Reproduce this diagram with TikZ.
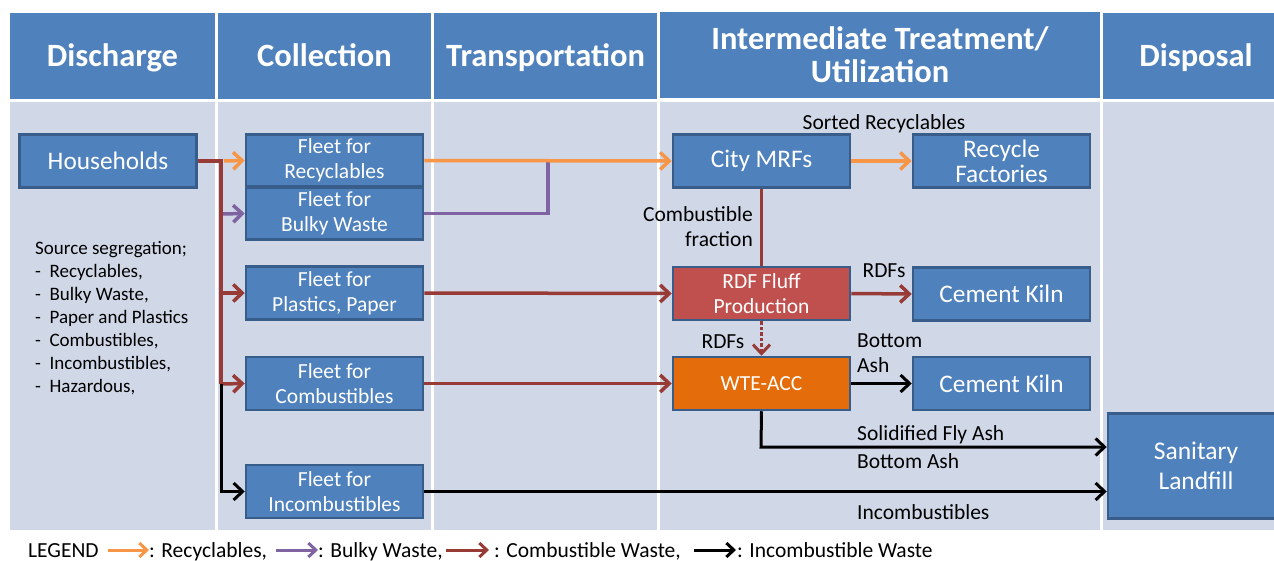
\documentclass[tikz,border=0pt]{standalone}
\usepackage{fontspec}
\setmainfont{Carlito}
\usetikzlibrary{arrows.meta}
\definecolor{hdrC}{HTML}{4F81BD}
\definecolor{bodyC}{HTML}{D0D8E8}
\definecolor{lineC}{HTML}{385D8A}
\definecolor{orangeA}{HTML}{F79646}
\definecolor{purpleA}{HTML}{8064A2}
\definecolor{redA}{HTML}{983A36}
\definecolor{rdfC}{HTML}{C0504D}
\definecolor{wteC}{HTML}{E46C0A}
\tikzset{
  hdrbase/.style={fill=hdrC, text=white, font=\fontsize{32.5}{33}\selectfont\bfseries, align=center, inner sep=0pt, minimum height=86pt},
  hdr/.style={hdrbase, text height=22pt, text depth=1.4pt},
  bodycell/.style={fill=bodyC, inner sep=0pt, minimum height=428pt},
  box/.style={draw=lineC, fill=hdrC, line width=2.5pt, minimum width=177pt, minimum height=53pt, text=white, align=center, inner sep=0pt},
  fleet/.style={box, font=\fontsize{21.5}{25}\selectfont},
  bigbox/.style={box, font=\fontsize{25.3}{25}\selectfont},
  lbl/.style={font=\fontsize{21.5}{25}\selectfont, inner sep=0pt, align=left},
  leg/.style={font=\fontsize{21.5}{24}\selectfont, inner sep=0pt, anchor=base west},
  tipA/.style={-{Straight Barb[length=9pt,width=17pt]}},
  tipL/.style={-{Straight Barb[length=7.5pt,width=14pt]}},
  oline/.style={draw=orangeA, line width=3.5pt},
  pline/.style={draw=purpleA, line width=3.5pt},
  rline/.style={draw=redA, line width=3.5pt},
  kline/.style={draw=black, line width=3pt},
}
\begin{document}
\begin{tikzpicture}[x=1pt,y=-1pt]
\useasboundingbox (0,0) rectangle (1274,561);
\fill[white] (0,0) rectangle (1274,561);
% header cells
\node[hdr, minimum width=205pt] (h1) at (112.5,56) {Discharge};
\node[hdr, minimum width=213pt] (h2) at (324.5,56) {Collection};
\node[hdr, minimum width=223pt] (h3) at (545.5,56) {Transportation};
\node[hdrbase, minimum width=440pt] (h4) at (880,55) {Intermediate Treatment/\\Utilization};
\node[hdr, minimum width=186pt] (h5) at (1196,56) {Disposal};
% body cells
\node[bodycell, minimum width=205pt] (b1) at (112.5,316) {};
\node[bodycell, minimum width=213pt] (b2) at (324.5,316) {};
\node[bodycell, minimum width=223pt] (b3) at (545.5,316) {};
\node[bodycell, minimum width=440pt] (b4) at (880,316) {};
\node[bodycell, minimum width=186pt] (b5) at (1196,316) {};
% nodes
\node[bigbox] (hh) at (108,161) {Households};
\node[fleet, minimum height=52pt] (fr) at (334.5,160.5) {Fleet for\\Recyclables};
\node[fleet, minimum height=52pt] (fb) at (334.5,213.5) {Fleet for\\Bulky Waste};
\node[fleet] (fp) at (334.5,293) {Fleet for\\Plastics, Paper};
\node[fleet] (fc) at (334.5,383.5) {Fleet for\\Combustibles};
\node[fleet] (fi) at (334.5,491.5) {Fleet for\\Incombustibles};
\node[bigbox] (mrf) at (761.5,161) {City MRFs};
\node[bigbox] (rf) at (1001.5,161) {Recycle\\Factories};
\node[fleet, fill=rdfC] (rdf) at (761.5,293.5) {RDF Fluff\\Production};
\node[bigbox] (ck1) at (1001.5,294) {Cement Kiln};
\node[fleet, fill=wteC] (wte) at (761.5,383.5) {WTE-ACC};
\node[bigbox] (ck2) at (1001.5,383.5) {Cement Kiln};
\node[bigbox, minimum width=176pt, minimum height=105pt, font=\fontsize{25.5}{30}\selectfont] (sl) at (1196,466) {Sanitary\\Landfill};
% source segregation
\node[anchor=north west, inner sep=0pt, align=left, font=\fontsize{19}{23}\selectfont] (seg) at (35,241)
 {Source segregation;\\- \ Recyclables,\\- \ Bulky Waste,\\- \ Paper and Plastics\\- \ Combustibles,\\- \ Incombustibles,\\- \ Hazardous,};
% junction coordinates
\coordinate (j1) at (221,161);
\coordinate (j2) at (221,214);
\coordinate (j3) at (221,293);
\coordinate (j4) at (221,384);
\coordinate (jb) at (548,161);
\coordinate (fa) at (761,447);
% collection arrows
\draw[oline, tipA] (224,161) -- (fr.west);
\draw[pline, tipA] (j2) -- (fb.west);
\draw[rline, tipA] (j3) -- (fp.west);
\draw[rline, tipA] (j4) -- (fc.west);
\draw[kline, tipA] (j4) |- (fi.west);
\draw[rline] (hh.east) -- (j1) -- (j4);
% transport
\draw[pline] (fb.east) -| (jb);
\draw[oline, tipA] (fr.east) -- (mrf.west);
\draw[rline, tipA] (fp.east) -- (rdf.west);
\draw[rline, tipA] (fc.east) -- (wte.west);
\draw[kline, tipA] (fi.east) -- (fi.east -| sl.west);
% treatment
\draw[oline, tipA] (mrf.east) -- (rf.west);
\draw[rline] (mrf.south) -- (rdf.north);
\draw[rline, tipA] (rdf.east) -- (ck1.west);
\draw[rline, dotted, line width=3pt, tipA] (rdf.south) -- (wte.north);
\draw[kline, tipA] (wte.east) -- (ck2.west);
\draw[kline, tipA] (wte.south) -- (fa) -- (fa -| sl.west);
% labels
\node[lbl] (l1) at (884,124) {Sorted Recyclables};
\node[lbl, align=right, anchor=east] (l2) at (753,227) {Combustible\\fraction};
\node[lbl] (l3) at (884,271) {RDFs};
\node[lbl] (l4) at (723,342) {RDFs};
\node[lbl, anchor=west] (l5) at (857,353) {Bottom\\Ash};
\node[lbl, anchor=west] (l6) at (857,435) {Solidified Fly Ash};
\node[lbl, anchor=west] (l7) at (857,461) {Bottom Ash};
\node[lbl, anchor=west] (l8) at (857,512) {Incombustibles};
% legend
\node[leg] (lg) at (28,557) {LEGEND};
\coordinate (a1s) at (108,550); \coordinate (a1e) at (149,550);
\draw[oline, line width=3pt, tipL] (a1s) -- (a1e);
\node[leg] (lg1) at (149,557) {: Recyclables,};
\coordinate (a2s) at (276,550); \coordinate (a2e) at (318,550);
\draw[pline, line width=3pt, tipL] (a2s) -- (a2e);
\node[leg] (lg2) at (318,557) {: Bulky Waste,};
\coordinate (a3s) at (446,550); \coordinate (a3e) at (489,550);
\draw[rline, line width=3pt, tipL] (a3s) -- (a3e);
\node[leg] (lg3) at (494,557) {: Combustible Waste,};
\coordinate (a4s) at (694,550); \coordinate (a4e) at (736,550);
\draw[kline, line width=3pt, tipL] (a4s) -- (a4e);
\node[leg] (lg4) at (737,557) {: Incombustible Waste};
\end{tikzpicture}
\end{document}
